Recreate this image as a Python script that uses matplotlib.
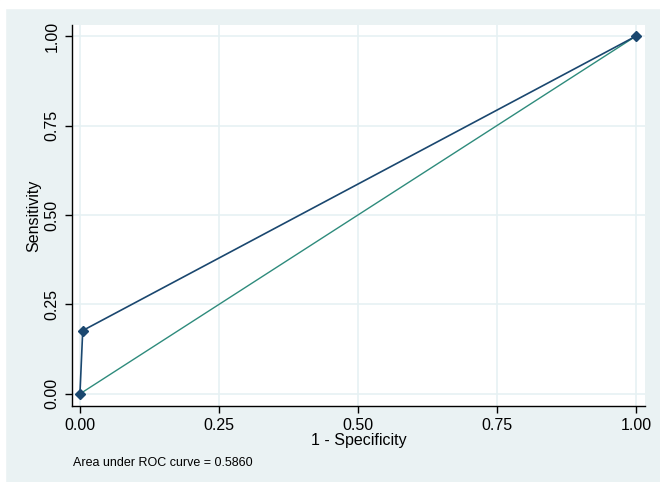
import matplotlib
matplotlib.use("Agg")
import matplotlib.pyplot as plt

plt.rcParams['font.family'] = ['Liberation Sans', 'DejaVu Sans']

# ROC points (1 - specificity, sensitivity)
fpr = [0.0, 0.005, 1.0]
tpr = [0.0, 0.177, 1.0]
ref = [0.0, 1.0]
ticks = [0.0, 0.25, 0.5, 0.75, 1.0]
tick_labels = ["0.00", "0.25", "0.50", "0.75", "1.00"]
auc_text = "Area under ROC curve = 0.5860"

bg = "#eaf2f3"
navy = "#1a476f"
teal = "#2e8b7c"

fig = plt.figure(figsize=(6.6, 4.82), dpi=100)
fig.patch.set_facecolor(bg)
# thin white frame at top and left like the scan
fig.add_artist(plt.Rectangle((0, 0.983), 1, 0.017, transform=fig.transFigure, color="white", zorder=0))
fig.add_artist(plt.Rectangle((0, 0), 0.008, 1, transform=fig.transFigure, color="white", zorder=0))

ax = fig.add_axes([0.109, 0.158, 0.868, 0.790])
ax.set_facecolor("white")

ax.plot(ref, ref, color=teal, lw=1.0, zorder=2)
ax.plot(fpr, tpr, color=navy, lw=1.2, marker="D", ms=5, zorder=3)

ax.set_xlim(-0.0144, 1.016)
ax.set_ylim(-0.0335, 1.031)
ax.set_xticks(ticks)
ax.set_xticklabels(tick_labels)
ax.set_yticks(ticks)
ax.set_yticklabels(tick_labels, rotation=90, va="center")
ax.grid(True, color="#e6f1f3", lw=1.2)
ax.set_axisbelow(True)

for s in ["top", "right"]:
    ax.spines[s].set_visible(False)
for s in ["left", "bottom"]:
    ax.spines[s].set_color("black")
    ax.spines[s].set_linewidth(1.0)
ax.tick_params(direction="out", length=5, width=1, labelsize=11.5, colors="black", pad=4)

ax.set_xlabel("1 - Specificity", fontsize=11.5, labelpad=-0.5)
ax.set_ylabel("Sensitivity", fontsize=11.5, labelpad=2)

fig.text(0.111, 0.040, auc_text, fontsize=9, ha="left", va="center")

fig.savefig("out.png", dpi=100, facecolor=fig.get_facecolor())
